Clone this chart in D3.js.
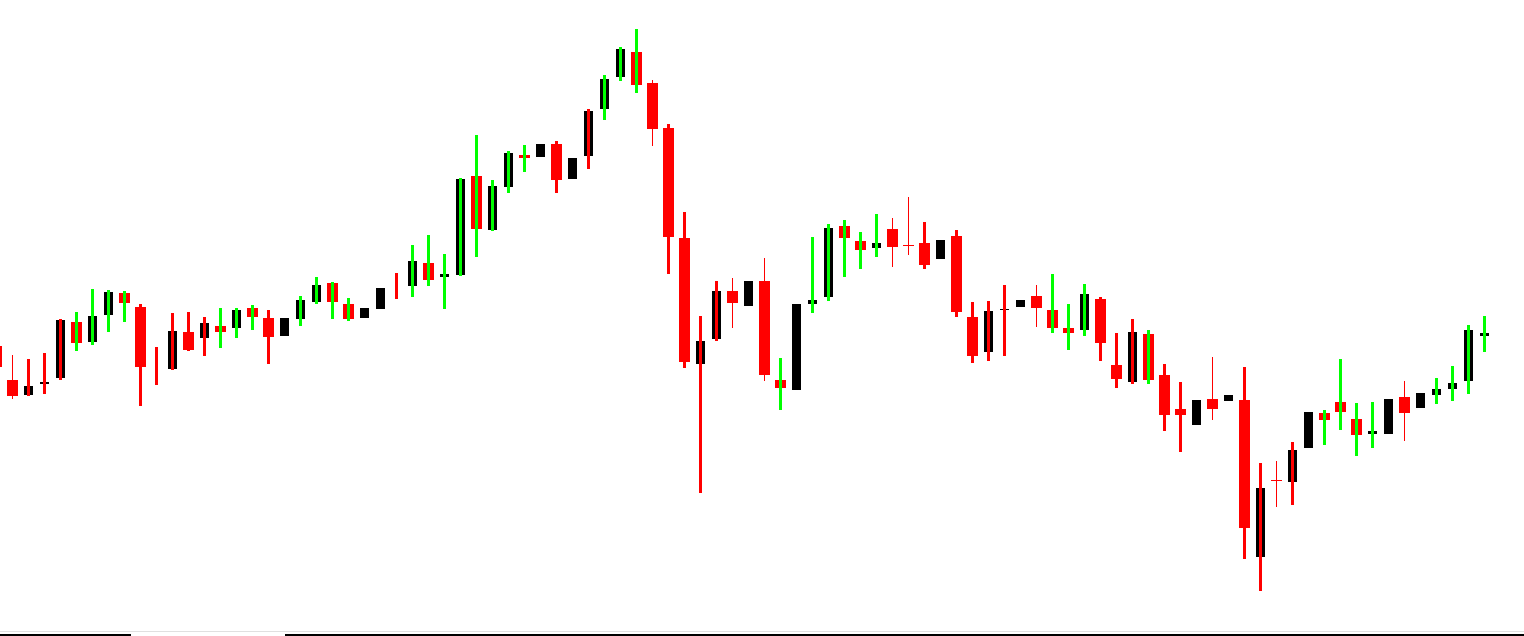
<!DOCTYPE html>
<html>
<head>
<meta charset="utf-8">
<style>
  html, body { margin: 0; padding: 0; background: #fff; overflow: hidden; }
  svg { display: block; }
</style>
</head>
<body>
<svg></svg>
<script src="https://d3js.org/d3.v7.min.js"></script>
<script>
  // candle data, price in points (index -1 is the half-hidden bar at the left edge)
  const bars  = d3.range(-1, 93);
  const open  = [294,260,245,256,262,318,298,325,347,333,null,271,308,302,314,312,332,322,304,321,338,357,336,322,331,null,354,377,363,365,464,410,453,485,483,496,461,484,531,563,588,557,512,402,276,301,349,334,359,260,250,336,343,414,399,392,411,395,397,381,404,323,288,330,333,344,330,312,310,341,275,258,306,265,231,215,241,239,240,83,160,158,192,227,238,221,206,206,243,232,245,251,259,304];
  const close = [273,244,254,258,320,297,324,348,337,273,null,309,290,317,308,330,323,303,322,340,355,338,321,332,352,null,379,360,366,461,411,454,487,482,496,460,482,529,561,591,555,511,403,278,299,349,337,359,265,252,336,340,412,402,390,397,393,394,375,400,328,284,329,331,340,332,312,307,346,297,261,308,260,225,225,240,231,245,112,152,159,190,228,220,228,205,209,241,227,247,251,257,310,307];
  const high  = [294,285,281,287,321,328,351,350,349,336,293,327,328,323,332,332,335,330,322,344,363,358,342,332,352,367,395,405,386,462,505,460,489,495,496,499,482,531,565,593,611,560,516,428,324,359,362,359,382,282,336,403,416,420,408,426,422,443,418,400,410,338,339,355,340,355,366,336,356,343,307,321,310,276,258,240,283,245,273,177,179,198,228,230,281,237,238,241,259,247,262,274,315,324];
  const low   = [273,241,244,246,260,289,295,308,318,234,255,270,289,284,292,302,310,276,304,314,336,321,319,322,331,341,343,354,331,364,383,409,447,468,483,447,461,471,520,559,547,494,366,272,147,299,312,334,259,230,250,327,339,363,371,383,373,385,371,381,323,277,279,284,333,313,307,290,304,279,252,256,256,209,188,215,220,239,81,49,133,135,192,195,210,184,192,206,199,232,236,239,246,288];
  // overlay wick: g = green, r = red, t = thin red, '' = none
  const wick  = ['t','t','r','r','r','g','g','g','g','r','r','r','r','r','g','g','g','r','','g','g','g','g','','','r','g','g','g','g','g','g','g','g','','r','','r','g','g','g','t','r','r','r','r','t','','t','g','','g','g','g','g','g','t','t','r','','r','r','r','r','','t','g','g','g','r','r','r','g','r','r','','t','','r','r','t','r','','g','g','g','g','','t','','g','g','g','g'];

  const width = 1524;
  const height = 636;
  const upColor = '#000000';
  const downColor = '#ff0000';
  const greenWick = '#00ff00';

  const candles = bars.map((b, i) => ({
    idx: b, o: open[i], h: high[i], l: low[i], c: close[i], w: wick[i]
  }));

  const svg = d3.select('svg')
      .attr('width', width).attr('height', height)
      .attr('shape-rendering', 'crispEdges');

  const x = d3.scaleLinear().domain([-1, 92]).range([-3.5, 1484.5]);
  const y = d3.scaleLinear().domain([0, 640]).range([640, 0]);

  // thin wicks go behind the bodies
  svg.append('g').selectAll('rect')
      .data(candles.filter(d => d.w === 't'))
      .enter().append('rect')
      .attr('x', d => x(d.idx) - 0.5)
      .attr('width', 1)
      .attr('y', d => y(d.h))
      .attr('height', d => y(d.l) - y(d.h))
      .attr('fill', downColor);

  // bodies
  svg.append('g').selectAll('rect')
      .data(candles.filter(d => d.o !== null))
      .enter().append('rect')
      .attr('x', d => x(d.idx) - (d.c >= d.o ? 4.5 : 5.5))
      .attr('width', d => d.c >= d.o ? 9 : 11)
      .attr('y', d => y(Math.max(d.o, d.c)))
      .attr('height', d => Math.max(1, Math.abs(y(d.o) - y(d.c))))
      .attr('fill', d => d.c >= d.o ? upColor : downColor);

  // thick overlay wicks in front
  svg.append('g').selectAll('rect')
      .data(candles.filter(d => d.w === 'g' || d.w === 'r'))
      .enter().append('rect')
      .attr('x', d => x(d.idx) - 1.5)
      .attr('width', 3)
      .attr('y', d => y(d.h))
      .attr('height', d => y(d.l) - y(d.h))
      .attr('fill', d => d.w === 'g' ? greenWick : downColor);

  // tab strip at the bottom
  const strip = svg.append('g');
  strip.append('rect').attr('x', 0).attr('y', 631).attr('width', width).attr('height', 1).attr('fill', '#e0e0e0');
  strip.append('rect').attr('x', 0).attr('y', 634).attr('width', 131).attr('height', 2).attr('fill', '#000');
  strip.append('rect').attr('x', 285).attr('y', 634).attr('width', width - 285).attr('height', 2).attr('fill', '#000');
  strip.append('rect').attr('x', 130).attr('y', 634).attr('width', 1).attr('height', 2).attr('fill', '#000');
  strip.append('rect').attr('x', 285).attr('y', 634).attr('width', 1).attr('height', 2).attr('fill', '#000');
</script>
</body>
</html>
